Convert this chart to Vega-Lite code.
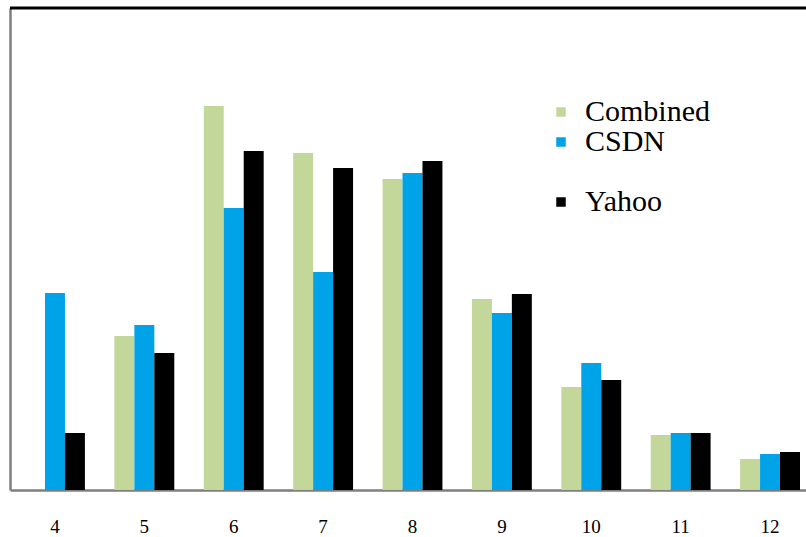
{
  "$schema": "https://vega.github.io/schema/vega-lite/v6.json",
  "width": 796,
  "height": 482,
  "autosize": {"type": "none"},
  "padding": {"left": 10, "top": 8, "right": 0, "bottom": 47},
  "background": "white",
  "config": {
    "view": {"stroke": null},
    "font": "Liberation Serif",
    "legend": {"labelFont": "Times New Roman, Liberation Serif, serif"}
  },
  "data": {
    "values": [
      {"length": 4, "series": "Combined", "share": 0},
      {"length": 4, "series": "CSDN", "share": 10.22},
      {"length": 4, "series": "Yahoo", "share": 2.96},
      {"length": 5, "series": "Combined", "share": 7.99},
      {"length": 5, "series": "CSDN", "share": 8.56},
      {"length": 5, "series": "Yahoo", "share": 7.11},
      {"length": 6, "series": "Combined", "share": 19.92},
      {"length": 6, "series": "CSDN", "share": 14.63},
      {"length": 6, "series": "Yahoo", "share": 17.58},
      {"length": 7, "series": "Combined", "share": 17.48},
      {"length": 7, "series": "CSDN", "share": 11.31},
      {"length": 7, "series": "Yahoo", "share": 16.7},
      {"length": 8, "series": "Combined", "share": 16.13},
      {"length": 8, "series": "CSDN", "share": 16.44},
      {"length": 8, "series": "Yahoo", "share": 17.06},
      {"length": 9, "series": "Combined", "share": 9.91},
      {"length": 9, "series": "CSDN", "share": 9.18},
      {"length": 9, "series": "Yahoo", "share": 10.17},
      {"length": 10, "series": "Combined", "share": 5.34},
      {"length": 10, "series": "CSDN", "share": 6.59},
      {"length": 10, "series": "Yahoo", "share": 5.71},
      {"length": 11, "series": "Combined", "share": 2.85},
      {"length": 11, "series": "CSDN", "share": 2.96},
      {"length": 11, "series": "Yahoo", "share": 2.96},
      {"length": 12, "series": "Combined", "share": 1.61},
      {"length": 12, "series": "CSDN", "share": 1.87},
      {"length": 12, "series": "Yahoo", "share": 1.97}
    ]
  },
  "layer": [
    {
      "mark": {"type": "bar"},
      "encoding": {
        "x": {
          "field": "length",
          "type": "ordinal",
          "scale": {"range": [0, 805], "paddingInner": 0.33, "paddingOuter": 0.168},
          "axis": {
            "title": null,
            "ticks": false,
            "grid": false,
            "domainColor": "#7f7f7f",
            "domainWidth": 2.5,
            "labelFont": "Liberation Serif",
            "labelFontSize": 19,
            "labelColor": "black",
            "labelPadding": 27,
            "labelAngle": 0
          }
        },
        "xOffset": {
          "field": "series",
          "scale": {"domain": ["Combined", "CSDN", "Yahoo"]}
        },
        "y": {
          "field": "share",
          "type": "quantitative",
          "scale": {"domain": [0, 25], "nice": false},
          "axis": {
            "title": null,
            "ticks": false,
            "labels": false,
            "grid": false,
            "domainColor": "#7f7f7f",
            "domainWidth": 2.5
          }
        },
        "color": {
          "field": "series",
          "type": "nominal",
          "scale": {
            "domain": ["Combined", "CSDN", " ", "Yahoo"],
            "range": ["#c4d79b", "#00a2e8", "#ffffff", "#000000"]
          },
          "legend": {
            "title": null,
            "orient": "none",
            "legendX": 536,
            "legendY": 89,
            "symbolType": "square",
            "symbolSize": 90,
            "symbolStrokeWidth": 0,
            "labelFont": "Times New Roman, Liberation Serif, serif",
            "labelFontSize": 30,
            "labelColor": "black",
            "labelOffset": 9,
            "labelLimit": 300,
            "rowPadding": 0
          }
        }
      }
    },
    {
      "data": {"values": [{}]},
      "mark": {"type": "rule", "color": "black", "strokeWidth": 3},
      "encoding": {"y": {"datum": 25}}
    }
  ]
}
